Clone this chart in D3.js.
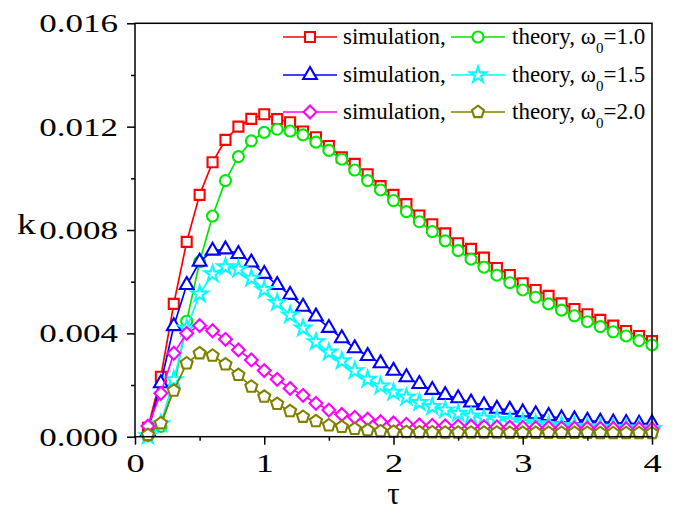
<!DOCTYPE html>
<html>
<head>
<meta charset="utf-8">
<script src="https://cdn.jsdelivr.net/npm/d3@7"></script>
<style>
  body { margin: 0; background: #fff; }
  text { font-family: "Liberation Serif", "Times New Roman", serif; }
</style>
</head>
<body>
<svg width="673" height="511"></svg>
<script>
const tau = [0.1, 0.2, 0.3, 0.4, 0.5, 0.6, 0.7, 0.8, 0.9, 1.0,
             1.1, 1.2, 1.3, 1.4, 1.5, 1.6, 1.7, 1.8, 1.9, 2.0,
             2.1, 2.2, 2.3, 2.4, 2.5, 2.6, 2.7, 2.8, 2.9, 3.0,
             3.1, 3.2, 3.3, 3.4, 3.5, 3.6, 3.7, 3.8, 3.9, 4.0]

// simulation / theory, omega0 = 1.0
const sim10 = [0.00034, 0.00232, 0.00514, 0.00754, 0.00936, 0.01062, 0.01149, 0.0120, 0.0123, 0.01248,
               0.01229, 0.01217, 0.01181, 0.01159, 0.01125, 0.01081, 0.01056, 0.01016, 0.0097, 0.00936,
               0.0090, 0.00856, 0.00822, 0.00787, 0.00749, 0.00727, 0.00693, 0.00653, 0.00626, 0.00594,
               0.00568, 0.00545, 0.00516, 0.00494, 0.00474, 0.00452, 0.0043, 0.00409, 0.0039, 0.0037]
const theo10 = [0.00003, 0.0004, 0.0019, 0.00447, 0.00677, 0.00854, 0.00991, 0.01084, 0.01145, 0.01178,
                0.0119, 0.01183, 0.01168, 0.0114, 0.01108, 0.01074, 0.01032, 0.00991, 0.00955, 0.00914,
                0.00871, 0.00832, 0.00794, 0.00758, 0.0072, 0.00687, 0.00656, 0.00625, 0.00596, 0.00568,
                0.0054, 0.00514, 0.0049, 0.00468, 0.00445, 0.00426, 0.00406, 0.0039, 0.00372, 0.00355]

// omega0 = 1.5
const sim15 = [0.0002, 0.00207, 0.00428, 0.00587, 0.00677, 0.0072, 0.00725, 0.00707, 0.00674, 0.0063,
               0.00587, 0.00549, 0.00503, 0.00465, 0.00421, 0.00381, 0.00342, 0.00312, 0.00284, 0.00255,
               0.0023, 0.00204, 0.00181, 0.00161, 0.00149, 0.00132, 0.00122, 0.00108, 0.00104, 0.00094,
               0.00087, 0.0008, 0.00071, 0.00067, 0.00062, 0.00058, 0.00055, 0.00053, 0.0005, 0.00052]
const theo15 = [0.00003, 0.0005, 0.0022, 0.0042, 0.00552, 0.0063, 0.00657, 0.00648, 0.00613, 0.00569,
                0.00519, 0.00471, 0.0042, 0.00367, 0.00327, 0.00293, 0.00255, 0.00222, 0.00196, 0.00172,
                0.00153, 0.00132, 0.00116, 0.00103, 0.0009, 0.0008, 0.00072, 0.00066, 0.0006, 0.00055,
                0.0005, 0.00046, 0.00043, 0.0004, 0.00038, 0.00036, 0.00034, 0.00033, 0.00032, 0.00031]

// omega0 = 2.0
const sim20 = [0.00041, 0.00168, 0.00323, 0.004, 0.0043, 0.0041, 0.00377, 0.00336, 0.00297, 0.00256,
               0.00222, 0.00187, 0.0016, 0.00129, 0.00103, 0.00086, 0.00075, 0.00068, 0.00058, 0.00053,
               0.00048, 0.00046, 0.00044, 0.00042, 0.00041, 0.0004, 0.00039, 0.00038, 0.00037, 0.00036,
               0.00035, 0.00035, 0.00034, 0.00033, 0.00033, 0.00032, 0.00032, 0.00031, 0.00031, 0.0003]
const theo20 = [0.00007, 0.00052, 0.00178, 0.00284, 0.00323, 0.00314, 0.0028, 0.00239, 0.00194, 0.00155,
                0.00127, 0.00099, 0.00077, 0.0006, 0.00044, 0.00038, 0.0003, 0.00025, 0.00021, 0.00019,
                0.00018, 0.00017, 0.00017, 0.00016, 0.00016, 0.00016, 0.00016, 0.00016, 0.00015, 0.00015,
                0.00015, 0.00015, 0.00015, 0.00015, 0.00015, 0.00014, 0.00014, 0.00014, 0.00014, 0.00014]

const omegaLabels = ['1.0', '1.5', '2.0']
const yTicks = [0, 0.004, 0.008, 0.012, 0.016]
const yMinor = [0.002, 0.006, 0.010, 0.014]
const xTicks = [0, 1, 2, 3, 4]
const xMinor = [0.5, 1.5, 2.5, 3.5]

// custom pentagon, same sizing idea as d3 symbols
const symbolPentagon = {
  draw(ctx, size) {
    let r = Math.sqrt(size / 2.378)
    for (let i = 0; i < 5; i++) {
      let a = -Math.PI / 2 + i * 2 * Math.PI / 5
      let px = r * Math.cos(a), py = r * Math.sin(a)
      if (i === 0) ctx.moveTo(px, py)
      else ctx.lineTo(px, py)
    }
    ctx.closePath()
  }
}

const series = [
  { values: sim10,  color: '#ff0000', symbol: d3.symbolSquare,   size: 100 },
  { values: theo10, color: '#00e800', symbol: d3.symbolCircle,   size: 95 },
  { values: sim15,  color: '#0000ff', symbol: d3.symbolTriangle, size: 82 },
  { values: theo15, color: '#00ffff', symbol: d3.symbolStar,     size: 78 },
  { values: sim20,  color: '#ff00ff', symbol: d3.symbolDiamond2, size: 105 },
  { values: theo20, color: '#808000', symbol: symbolPentagon,    size: 95 }
]

let width = 673
let height = 511
let plotLeft = 135, plotRight = 652, plotTop = 23.3, plotBottom = 436.7

let xScale = d3.scaleLinear().domain([0, 4]).range([plotLeft, plotRight])
let yScale = d3.scaleLinear().domain([0, 0.016]).range([plotBottom, plotTop])

let svg = d3.select('svg')
    .attr('width', width)
    .attr('height', height)

// curves
series.forEach(s => {
  let pts = tau.map((t, i) => [t, s.values[i]])
  svg.append('path')
      .attr('d', d3.line().x(d => xScale(d[0])).y(d => yScale(d[1]))(pts))
      .attr('fill', 'none')
      .attr('stroke', s.color)
      .attr('stroke-width', 1.7)
  svg.append('g')
    .selectAll('path')
    .data(pts)
    .enter()
    .append('path')
      .attr('transform', d => `translate(${xScale(d[0])},${yScale(d[1])})`)
      .attr('d', d3.symbol(s.symbol, s.size))
      .attr('fill', '#fff')
      .attr('stroke', s.color)
      .attr('stroke-width', 2.1)
})

// frame
svg.append('rect')
    .attr('x', plotLeft).attr('y', plotTop)
    .attr('width', plotRight - plotLeft).attr('height', plotBottom - plotTop)
    .attr('fill', 'none')
    .attr('stroke', '#000')
    .attr('stroke-width', 1.5)

// axes
let yAxis = svg.append('g')
    .attr('transform', `translate(${plotLeft},0)`)
    .call(d3.axisLeft(yScale).tickValues(yTicks).tickSize(8).tickPadding(6).tickFormat(d3.format('.3f')))
svg.append('g')
    .attr('transform', `translate(${plotLeft},0)`)
    .call(d3.axisLeft(yScale).tickValues(yMinor).tickSize(4).tickFormat(''))
let xAxis = svg.append('g')
    .attr('transform', `translate(0,${plotBottom})`)
    .call(d3.axisBottom(xScale).tickValues(xTicks).tickSize(8).tickPadding(9).tickFormat(d3.format('d')))
svg.append('g')
    .attr('transform', `translate(0,${plotBottom})`)
    .call(d3.axisBottom(xScale).tickValues(xMinor).tickSize(4).tickFormat(''))

svg.selectAll('.domain').remove()
svg.selectAll('.tick line').attr('stroke', '#000').attr('stroke-width', 1.5)

// tick labels are drawn wide in the original
function widen(sel, factor) {
  sel.each(function () {
    let w = this.getComputedTextLength()
    d3.select(this)
      .attr('textLength', w * factor)
      .attr('lengthAdjust', 'spacingAndGlyphs')
  })
}
yAxis.selectAll('text')
    .style('font-family', '"Liberation Serif", serif')
    .attr('font-size', 25)
    .attr('fill', '#000')
    .attr('x', -17)
    .attr('dy', '0.34em')
xAxis.selectAll('text')
    .style('font-family', '"Liberation Serif", serif')
    .attr('font-size', 26)
    .attr('fill', '#000')
widen(yAxis.selectAll('text'), 1.4)
widen(xAxis.selectAll('text'), 1.4)

// axis titles
let kLabel = svg.append('text')
    .attr('x', 17).attr('y', 234)
    .attr('font-size', 30)
    .text('k')
widen(kLabel, 1.25)
svg.append('text')
    .attr('x', (plotLeft + plotRight) / 2).attr('y', 504)
    .attr('text-anchor', 'middle')
    .attr('font-size', 31)
    .text('τ')

// legend: two columns per row (simulation, theory)
let legendRows = [37, 75, 112]
omegaLabels.forEach((om, r) => {
  let y = legendRows[r]
  let cols = [
    { s: series[r * 2], x0: 283, x1: 337, tx: 343 },
    { s: series[r * 2 + 1], x0: 451, x1: 505, tx: 512 }
  ]
  cols.forEach((c, ci) => {
    svg.append('line')
        .attr('x1', c.x0).attr('x2', c.x1)
        .attr('y1', y).attr('y2', y)
        .attr('stroke', c.s.color)
        .attr('stroke-width', 1.7)
    svg.append('path')
        .attr('transform', `translate(${(c.x0 + c.x1) / 2},${y})`)
        .attr('d', d3.symbol(c.s.symbol, c.s.size))
        .attr('fill', '#fff')
        .attr('stroke', c.s.color)
        .attr('stroke-width', 2.1)
    let t = svg.append('text')
        .attr('x', c.tx).attr('y', y + 7)
        .attr('font-size', 23)
    if (ci === 0) {
      t.text('simulation,')
    } else {
      t.append('tspan').text('theory, ω')
      t.append('tspan').attr('font-size', 15).attr('dy', 9).text('0')
      t.append('tspan').attr('dy', -9).text('=' + om)
    }
  })
})
</script>
</body>
</html>
